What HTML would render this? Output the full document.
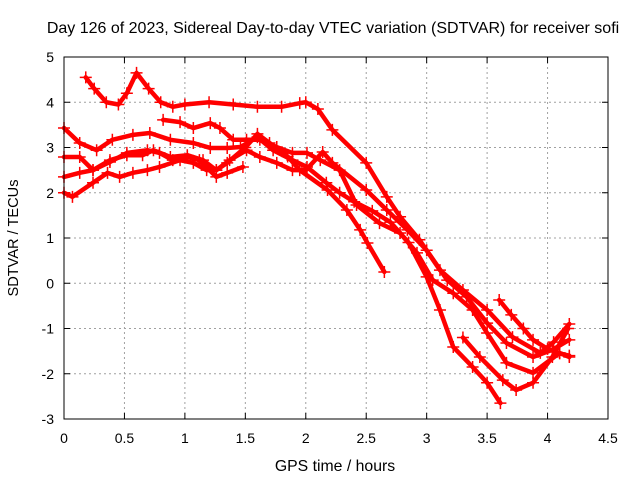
<!DOCTYPE html>
<html><head><meta charset="utf-8"><style>
body{margin:0;background:#fff}
svg{display:block;font-family:"Liberation Sans",sans-serif}
</style></head><body>
<svg id="chart" width="640" height="480">
<text x="333" y="33" text-anchor="middle" font-size="16">Day 126 of 2023, Sidereal Day-to-day VTEC variation (SDTVAR) for receiver sofi</text>
<text x="335" y="471" text-anchor="middle" font-size="15.8">GPS time / hours</text>
<text transform="translate(18,238) rotate(-90)" text-anchor="middle" font-size="14.6">SDTVAR / TECUs</text>
<g id="grid"></g>
<g id="ticks"></g>
<g id="series"></g>
<rect x="64" y="57" width="544" height="362" fill="none" stroke="#000" stroke-width="1"/>
</svg>
<script>
const xTicks=[0,0.5,1,1.5,2,2.5,3,3.5,4,4.5];
const yTicks=[-3,-2,-1,0,1,2,3,4,5];
const sTop=[[0.18,4.55],[0.25,4.3],[0.35,4.0],[0.45,3.95],[0.52,4.2],[0.6,4.65],[0.7,4.3],[0.8,4.0],[0.9,3.9],[1.0,3.95],[1.2,4.0],[1.4,3.95],[1.6,3.9],[1.8,3.9],[1.95,3.98],[2.0,4.0],[2.1,3.85],[2.22,3.39],[2.5,2.66],[2.67,1.91],[2.78,1.47],[2.94,0.96],[3.11,0.29],[3.3,-0.15],[3.5,-0.59],[3.71,-1.19],[3.94,-1.54],[4.05,-1.3],[4.18,-0.9]];
const sA=[[0,3.43],[0.13,3.1],[0.27,2.94],[0.4,3.17],[0.57,3.28],[0.71,3.32],[0.88,3.17],[1.07,3.1],[1.21,2.99],[1.35,2.99],[1.46,3.01],[1.6,3.23],[1.73,2.94],[1.89,2.72],[2.01,2.57],[2.17,2.22],[2.28,2.0],[2.4,1.8],[2.55,1.6],[2.7,1.35],[2.85,0.9],[3.0,0.14],[3.11,-0.59],[3.22,-1.41],[3.38,-1.85],[3.5,-2.2],[3.61,-2.65]];
const sB=[[0.82,3.61],[0.96,3.56],[1.07,3.43],[1.21,3.54],[1.29,3.43],[1.4,3.17],[1.51,3.17],[1.62,3.17],[1.76,3.01],[1.89,2.88],[2.01,2.88],[2.12,2.72],[2.28,2.5],[2.42,1.73],[2.61,1.33],[2.78,1.11],[2.92,0.67],[3.05,0.07],[3.22,-0.22],[3.38,-0.59],[3.5,-1.1],[3.66,-1.76],[3.88,-1.98],[4.1,-1.54],[4.18,-1.63]];
const sC=[[0,2.79],[0.13,2.79],[0.24,2.5],[0.38,2.72],[0.52,2.83],[0.65,2.83],[0.74,2.94],[0.88,2.79],[1.02,2.83],[1.15,2.72],[1.26,2.5],[1.37,2.72],[1.51,2.94],[1.62,2.79],[1.76,2.66],[1.89,2.5],[2.0,2.5],[2.14,2.9],[2.22,2.66],[2.5,2.06],[2.67,1.62],[2.84,1.18],[3.0,0.73],[3.17,0.07],[3.33,-0.3],[3.5,-0.88],[3.66,-1.32],[3.88,-1.63],[4.04,-1.47],[4.18,-1.25]];
const sD=[[0,2.35],[0.13,2.44],[0.24,2.5],[0.38,2.68],[0.52,2.88],[0.69,2.94],[0.79,2.88],[0.9,2.72],[1.02,2.79],[1.12,2.72],[1.26,2.35],[1.35,2.44],[1.48,2.57]];
const sE=[[0,2.0],[0.07,1.91],[0.24,2.22],[0.36,2.44],[0.46,2.35],[0.57,2.44],[0.69,2.5],[0.79,2.57],[0.96,2.72],[1.07,2.66],[1.18,2.5],[1.26,2.5],[1.35,2.66],[1.5,3.0],[1.6,3.3],[1.7,3.1],[1.85,2.8],[1.95,2.5],[2.18,2.06],[2.34,1.62],[2.45,1.18],[2.51,0.89],[2.65,0.25]];
const sF=[[3.6,-0.37],[3.7,-0.7],[3.8,-1.0],[3.88,-1.25],[4.0,-1.45],[4.1,-1.55],[4.18,-1.6]];
const sG=[[3.3,-1.2],[3.44,-1.63],[3.63,-2.14],[3.74,-2.36],[3.88,-2.2],[4.04,-1.63],[4.17,-1.0]];
const allSeries=[sTop,sA,sB,sC,sD,sE,sF,sG];
const NS="http://www.w3.org/2000/svg";
const X=h=>64+h*(544/4.5);
const Y=v=>57+(5-v)*(362/8);
function mk(tag,attrs,parent){const e=document.createElementNS(NS,tag);for(const k in attrs)e.setAttribute(k,attrs[k]);parent.appendChild(e);return e;}
const grid=document.getElementById('grid'),ticks=document.getElementById('ticks'),ser=document.getElementById('series');
xTicks.forEach(t=>{
  const x=X(t);
  if(t>0&&t<4.5){const g=mk('line',{x1:x,x2:x,y1:57,y2:419,stroke:'#a0a0a0','stroke-dasharray':'2,3'},grid);
  
  }
  mk('line',{x1:x,x2:x,y1:419,y2:413,stroke:'#000'},ticks);
  mk('line',{x1:x,x2:x,y1:57,y2:63,stroke:'#000'},ticks);
  const l=mk('text',{x:x,y:443,'text-anchor':'middle','font-size':'14'},ticks);
  l.textContent=t;
  
  
});
yTicks.forEach(t=>{
  const y=Y(t);
  if(t>-3&&t<5){const g=mk('line',{x1:64,x2:608,y1:y,y2:y,stroke:'#a0a0a0','stroke-dasharray':'2,3'},grid);
  
  }
  mk('line',{x1:64,x2:70,y1:y,y2:y,stroke:'#000'},ticks);
  mk('line',{x1:602,x2:608,y1:y,y2:y,stroke:'#000'},ticks);
  const l=mk('text',{x:54,y:y+5,'text-anchor':'end','font-size':'14'},ticks);
  l.textContent=t;
  
  
});
allSeries.forEach((s,i)=>{
  const g=mk('g',{},ser);
  
  
  mk('polyline',{points:s.map(p=>X(p[0])+','+Y(p[1])).join(' '),fill:'none',stroke:'#ff0000','stroke-width':'4.5','stroke-linejoin':'round','stroke-linecap':'round'},g);
  s.forEach(p=>{
    const m=mk('path',{d:`M${X(p[0])-6},${Y(p[1])}h12M${X(p[0])},${Y(p[1])-6}v12`,stroke:'#ff0000','stroke-width':'1.5'},g);
    
    
  });
});
</script>
</body></html>
